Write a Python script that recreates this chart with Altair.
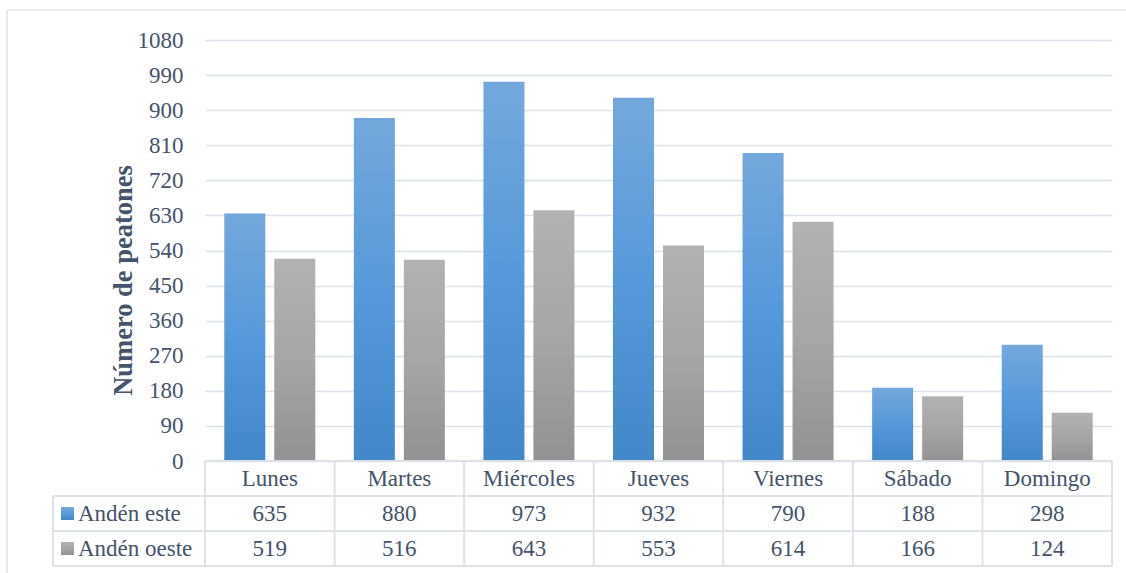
import altair as alt
import pandas as pd

# Daily pedestrian counts per platform
dias = ["Lunes", "Martes", "Miércoles", "Jueves", "Viernes", "Sábado", "Domingo"]
series = ["Andén este", "Andén oeste"]
anden_este = [635, 880, 973, 932, 790, 188, 298]
anden_oeste = [519, 516, 643, 553, 614, 166, 124]
y_ticks = list(range(0, 1081, 90))

W, H = 907, 421
ROW = 35  # height of one data-table row
TXT = "#44546A"
LINE = "#DDE2E9"
FONT = "Liberation Serif, Times New Roman, serif"
FS = 23

df = pd.DataFrame(
    [{"dia": d, "serie": series[0], "valor": v} for d, v in zip(dias, anden_este)]
    + [{"dia": d, "serie": series[1], "valor": v} for d, v in zip(dias, anden_oeste)]
)


def grad(stops):
    return alt.LinearGradient(
        gradient="linear",
        x1=0, x2=0, y1=0, y2=1,
        stops=[alt.GradientStop(offset=o, color=c) for o, c in stops],
    )


blue = grad([(0, "#74A8DC"), (0.5, "#5699DA"), (1, "#4287C8")])
gray = grad([(0, "#B2B2B2"), (0.5, "#A6A6A6"), (1, "#929292")])

x_enc = alt.X("dia:N", sort=dias, axis=None,
              scale=alt.Scale(domain=dias, paddingInner=0, paddingOuter=0))
xoff = alt.XOffset("serie:N", scale=alt.Scale(domain=series, paddingInner=0.18, paddingOuter=0.386))
y_enc = alt.Y(
    "valor:Q",
    scale=alt.Scale(domain=[0, 1080], nice=False),
    axis=alt.Axis(
        values=y_ticks, format="d", title="Número de peatones",
        domain=False, ticks=False, labelPadding=22,
        labelFont=FONT, labelFontSize=FS, labelColor=TXT,
        gridColor=LINE, gridWidth=1.6,
        titleFont=FONT, titleFontSize=26.5, titleFontWeight="bold", titleColor=TXT,
        titleX=-82, titleY=240, titleBaseline="middle", titleAngle=270,
    ),
)

base = alt.Chart(df)

bars_este = base.transform_filter(alt.datum.serie == series[0]).mark_bar(
    color=blue, width=41
).encode(x=x_enc, xOffset=xoff, y=y_enc)
bars_oeste = base.transform_filter(alt.datum.serie == series[1]).mark_bar(
    color=gray, width=41
).encode(x=x_enc, xOffset=xoff, y=y_enc)

txt_kw = dict(font=FONT, fontSize=FS, color=TXT, baseline="middle", align="center")

# data-table header with day names
header = alt.Chart(pd.DataFrame({"dia": dias})).mark_text(**txt_kw).encode(
    x=alt.X("dia:N", sort=dias), y=alt.value(H + ROW / 2 + 0.5), text="dia:N"
)
row_este = base.transform_filter(alt.datum.serie == series[0]).mark_text(**txt_kw).encode(
    x=alt.X("dia:N", sort=dias), y=alt.value(H + ROW * 1.5 + 0.5), text="valor:Q"
)
row_oeste = base.transform_filter(alt.datum.serie == series[1]).mark_text(**txt_kw).encode(
    x=alt.X("dia:N", sort=dias), y=alt.value(H + ROW * 2.5 + 0.5), text="valor:Q"
)

# table grid: column separators at band starts, plus outer edges
vlines = alt.Chart(pd.DataFrame({"dia": dias})).mark_rule(color=LINE, strokeWidth=2).encode(
    x=alt.X("dia:N", sort=dias, bandPosition=0),
    y=alt.value(H), y2=alt.value(H + ROW * 3),
)
right_edge = alt.Chart(pd.DataFrame({"k": [0]})).mark_rule(color=LINE, strokeWidth=2).encode(
    x=alt.value(W), y=alt.value(H), y2=alt.value(H + ROW * 3)
)
left_edge = alt.Chart(pd.DataFrame({"k": [0]})).mark_rule(color=LINE, strokeWidth=2).encode(
    x=alt.value(-152), y=alt.value(H + ROW), y2=alt.value(H + ROW * 3)
)
top_line = alt.Chart(pd.DataFrame({"k": [0]})).mark_rule(color=LINE, strokeWidth=2).encode(
    x=alt.value(0), x2=alt.value(W), y=alt.value(H)
)
hlines = alt.Chart(pd.DataFrame({"r": [1, 2, 3]})).mark_rule(color=LINE, strokeWidth=2).encode(
    x=alt.value(-152), x2=alt.value(W),
    y=alt.Y("py:Q", scale=None),
).transform_calculate(py=f"{H} + {ROW} * datum.r")

# legend keys in the table's first column
key_este = alt.Chart(pd.DataFrame({"k": [0]})).mark_rect(color=blue).encode(
    x=alt.value(-144), x2=alt.value(-131),
    y=alt.value(H + ROW * 1.5 - 6.5), y2=alt.value(H + ROW * 1.5 + 6.5),
)
key_oeste = alt.Chart(pd.DataFrame({"k": [0]})).mark_rect(color=gray).encode(
    x=alt.value(-144), x2=alt.value(-131),
    y=alt.value(H + ROW * 2.5 - 6.5), y2=alt.value(H + ROW * 2.5 + 6.5),
)
key_txt = alt.Chart(pd.DataFrame({"s": series, "r": [1.5, 2.5]})).mark_text(
    font=FONT, fontSize=FS, color=TXT, baseline="middle", align="left"
).encode(
    x=alt.value(-127),
    y=alt.Y("py:Q", scale=None),
    text="s:N",
).transform_calculate(py=f"{H} + {ROW} * datum.r + 0.5")

# outer chart frame
frame = alt.Chart(pd.DataFrame({"k": [0]})).mark_rect(
    fill=None, stroke="#D9D9D9", strokeWidth=1.2
).encode(
    x=alt.value(-198), x2=alt.value(W + 40),
    y=alt.value(-30), y2=alt.value(H + 140),
)

chart = alt.layer(
    frame, bars_este, bars_oeste, top_line, hlines, vlines, right_edge, left_edge,
    header, row_este, row_oeste, key_este, key_oeste, key_txt,
).properties(
    width=W, height=H,
    autosize=alt.AutoSizeParams(type="none"),
    padding={"left": 205, "top": 40, "right": 14, "bottom": 112},
).configure_view(stroke=None)

chart.save("out.html", embed_options={"renderer": "svg", "actions": False})
